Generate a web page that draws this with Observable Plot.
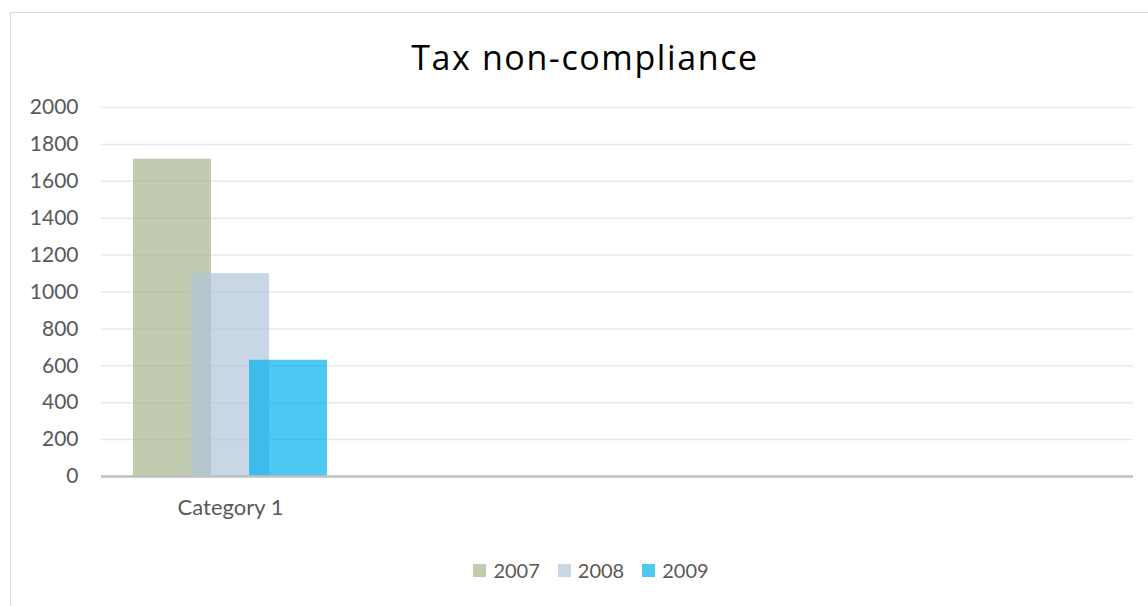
<!DOCTYPE html>
<html>
<head>
<meta charset="utf-8">
<script src="https://cdn.jsdelivr.net/npm/d3@7"></script>
<script src="https://cdn.jsdelivr.net/npm/@observablehq/plot@0.6"></script>
<style>
  html, body { margin: 0; padding: 0; background: #fff; }
  body { font-family: Lato, "Open Sans", sans-serif; width: 1148px; height: 606px; overflow: hidden; position: relative; }
  #frame { position: absolute; left: 10px; top: 12px; width: 1200px; height: 700px;
           border-left: 1.5px solid #d9d9d9; border-top: 1.5px solid #d9d9d9; box-sizing: border-box; }
  #wrap { position: absolute; left: 0; top: 0; width: 1148px; }
  #title { height: 80px; position: relative; }
  #title span { position: absolute; left: 0; width: 1170px; top: 40px; text-align: center;
                font-family: "Open Sans", Lato, sans-serif;
                font-size: 34px; line-height: 34px; letter-spacing: 1.6px; color: #000; }
  #chart svg { display: block; overflow: visible; }
  #legend { position: relative; height: 60px; }
  #legend .items { position: absolute; left: 0; width: 1182px; top: 25px; display: flex; justify-content: center; align-items: center; }
  #legend .item { display: flex; align-items: center; margin: 0 9px; color: #595959; font-size: 20px; line-height: 20px; }
  #legend .sw { width: 13px; height: 13px; margin-right: 7px; }
</style>
</head>
<body>
<div id="frame"></div>
<div id="wrap">
  <div id="title"><span></span></div>
  <div id="chart"></div>
  <div id="legend"><div class="items"></div></div>
</div>
<script>
// ---- data ----
const titleText = "Tax non-compliance";
const categories = ["Category 1"];
const years = ["2007", "2008", "2009"];
const values2007 = [1720];
const values2008 = [1100];
const values2009 = [630];
const yTicks = [0, 200, 400, 600, 800, 1000, 1200, 1400, 1600, 1800, 2000];
const baseColors = ["#a5b58e", "#b0c4da", "#01b0ee"];

// ---- table built from arrays ----
const seriesValues = [values2007, values2008, values2009];
const rows = [];
categories.forEach((c, ci) => {
  years.forEach((yr, yi) => rows.push({category: c, year: yr, value: seriesValues[yi][ci]}));
});

document.querySelector("#title span").textContent = titleText;

const plot = Plot.plot({
  width: 1148,
  height: 455,
  marginTop: 27,
  marginBottom: 59,
  marginLeft: 101,
  marginRight: 15,
  style: {fontFamily: "Lato, 'Open Sans', sans-serif", background: "transparent"},
  x: {domain: years, range: [132, 328], paddingInner: -0.35, paddingOuter: 0, axis: null},
  y: {domain: [0, 2000], ticks: yTicks, axis: null},
  color: {domain: years, range: baseColors},
  marks: [
    Plot.gridY(yTicks.filter(d => d > 0), {stroke: "#d9d9d9", strokeOpacity: 0.6, strokeWidth: 1.5}),
    Plot.axisY(yTicks, {tickSize: 0, tickPadding: 23, tickFormat: d => String(d), fontSize: 21, fill: "#595959", label: null}),
    Plot.barY(rows, {x: "year", y: "value", fill: "year", fillOpacity: 0.7}),
    Plot.ruleY([0], {stroke: "#bfbfbf", strokeWidth: 2.5}),
    Plot.text(categories, {x: () => years[1], frameAnchor: "bottom", dy: 38, text: d => d, fontSize: 22, fill: "#595959", letterSpacing: "0.4px"})
  ]
});
document.getElementById("chart").appendChild(plot);

// ---- legend ----
const items = d3.select("#legend .items");
years.forEach((yr, i) => {
  const it = items.append("div").attr("class", "item");
  it.append("div").attr("class", "sw").style("background", baseColors[i]).style("opacity", 0.7);
  it.append("span").text(yr);
});
</script>
</body>
</html>
